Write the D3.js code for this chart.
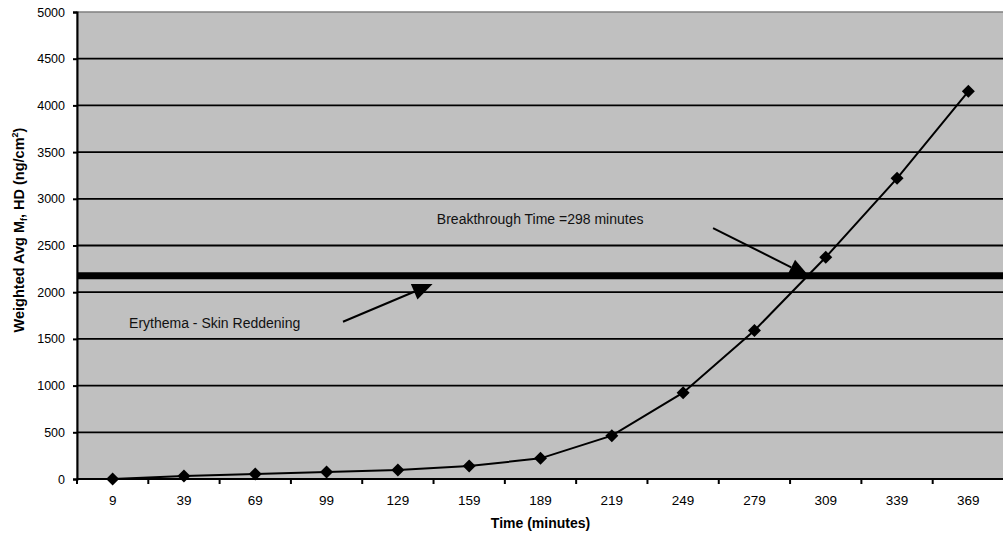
<!DOCTYPE html>
<html>
<head>
<meta charset="utf-8">
<script src="https://cdn.jsdelivr.net/npm/d3@7/dist/d3.min.js"></script>
<style>
  html, body { margin: 0; padding: 0; background: #fff; }
  svg { display: block; font-family: Arial, "Liberation Sans", sans-serif; }
</style>
</head>
<body>
<svg id="chart" width="1003" height="538"></svg>
<script>
// ---- data ----
const times = [9, 39, 69, 99, 129, 159, 189, 219, 249, 279, 309, 339, 369];
const values = [0, 32, 54, 75, 96, 139, 221, 464, 924, 1590, 2374, 3219, 4151];
const yTicks = [0, 500, 1000, 1500, 2000, 2500, 3000, 3500, 4000, 4500, 5000];
const thresholdValue = 2175;
const breakthroughLabel = "Breakthrough Time =298 minutes";
const erythemaLabel = "Erythema - Skin Reddening";
// annotation anchors in (time, value) data units
const breakthroughText = [145.4, 2728];
const breakthroughArrow = [[261.6, 2687], [302, 2170]];
const erythemaText = [15.9, 1612];
const erythemaArrow = [[105.9, 1684], [143.6, 2088]];

// ---- layout ----
const svg = d3.select("#chart");
const pL = 77, pR = 1004, pT = 12, pB = 479;

const x = d3.scaleBand().domain(times).range([pL, pR]).padding(0);
const xt = d3.scaleLinear().domain([times[0], times[times.length - 1]])
  .range([x(times[0]) + x.bandwidth() / 2, x(times[times.length - 1]) + x.bandwidth() / 2]);
const y = d3.scaleLinear().domain([0, 5000]).range([pB, pT]);

// plot area
svg.append("rect")
  .attr("x", pL).attr("y", pT)
  .attr("width", pR - pL).attr("height", pB - pT)
  .attr("fill", "#c0c0c0").attr("stroke", "#808080").attr("stroke-width", 1.5);

// gridlines
svg.append("g").selectAll("line")
  .data(yTicks.filter(d => d > 0 && d < 5000))
  .join("line")
  .attr("x1", pL).attr("x2", pR)
  .attr("y1", d => y(d)).attr("y2", d => y(d))
  .attr("stroke", "#000").attr("stroke-width", 1.8);

// threshold thick line
svg.append("line")
  .attr("x1", pL).attr("x2", pR)
  .attr("y1", y(thresholdValue)).attr("y2", y(thresholdValue))
  .attr("stroke", "#000").attr("stroke-width", 7);

// y axis
const yAxis = d3.axisLeft(y).tickValues(yTicks).tickSize(4).tickPadding(8).tickFormat(d3.format("d"));
const gy = svg.append("g").attr("transform", `translate(${pL},0)`).call(yAxis);
gy.select(".domain").attr("stroke", "#000").attr("stroke-width", 2);
gy.selectAll(".tick line").attr("stroke", "#000").attr("stroke-width", 2);
gy.selectAll(".tick text").attr("font-size", 12.5).attr("fill", "#000")
  .attr("font-family", 'Arial, "Liberation Sans", sans-serif');

// x axis: ticks at band boundaries
const gx = svg.append("g").attr("transform", `translate(0,${pB})`);
gx.append("line").attr("x1", pL).attr("x2", pR).attr("y1", 0).attr("y2", 0)
  .attr("stroke", "#000").attr("stroke-width", 2);
gx.selectAll("line.tk").data(times.concat(["end"])).join("line").attr("class", "tk")
  .attr("x1", (d, i) => pL + i * x.bandwidth())
  .attr("x2", (d, i) => pL + i * x.bandwidth())
  .attr("y1", 0).attr("y2", 5)
  .attr("stroke", "#000").attr("stroke-width", 2);
gx.selectAll("text").data(times).join("text")
  .attr("x", d => x(d) + x.bandwidth() / 2)
  .attr("y", 25.5)
  .attr("text-anchor", "middle")
  .attr("font-size", 13.5).attr("fill", "#000")
  .text(d => d);

// axis titles
svg.append("text")
  .attr("x", (pL + pR) / 2).attr("y", 527.5)
  .attr("text-anchor", "middle")
  .attr("font-size", 14).attr("font-weight", "bold")
  .text("Time (minutes)");

const yt = svg.append("text")
  .attr("transform", "translate(24,230) rotate(-90)")
  .attr("text-anchor", "middle")
  .attr("font-size", 14.5).attr("font-weight", "bold");
yt.append("tspan").text("Weighted Avg M");
yt.append("tspan").attr("font-size", 9).attr("dy", 3).text("f");
yt.append("tspan").attr("dy", -3).text(", HD (ng/cm");
yt.append("tspan").attr("font-size", 9).attr("dy", -6).text("2");
yt.append("tspan").attr("dy", 6).text(")");

// data line
const line = d3.line().x((d, i) => x(times[i]) + x.bandwidth() / 2).y(d => y(d));
svg.append("path").datum(values)
  .attr("d", line).attr("fill", "none")
  .attr("stroke", "#000").attr("stroke-width", 2);

// diamond markers
const r = 6.5;
svg.append("g").selectAll("path").data(values).join("path")
  .attr("transform", (d, i) => `translate(${x(times[i]) + x.bandwidth() / 2},${y(d)})`)
  .attr("d", `M0,${-r}L${r},0L0,${r}L${-r},0Z`)
  .attr("fill", "#000");

// annotations
function arrow(pts) {
  const [p0, p1] = pts.map(p => [xt(p[0]), y(p[1])]);
  const dx = p1[0] - p0[0], dy = p1[1] - p0[1];
  const len = Math.hypot(dx, dy), ux = dx / len, uy = dy / len;
  const hl = 20, hw = 8.5;
  const bx = p1[0] - ux * hl, by = p1[1] - uy * hl;
  svg.append("line")
    .attr("x1", p0[0]).attr("y1", p0[1]).attr("x2", bx).attr("y2", by)
    .attr("stroke", "#000").attr("stroke-width", 2);
  svg.append("path")
    .attr("d", `M${p1[0]},${p1[1]}L${bx - uy * hw},${by + ux * hw}L${bx + uy * hw},${by - ux * hw}Z`)
    .attr("fill", "#000");
}
arrow(breakthroughArrow);
arrow(erythemaArrow);

svg.append("text")
  .attr("x", xt(breakthroughText[0])).attr("y", y(breakthroughText[1]))
  .attr("font-size", 14).attr("fill", "#111").text(breakthroughLabel);
svg.append("text")
  .attr("x", xt(erythemaText[0])).attr("y", y(erythemaText[1]))
  .attr("font-size", 14).attr("fill", "#111").text(erythemaLabel);
</script>
</body>
</html>
